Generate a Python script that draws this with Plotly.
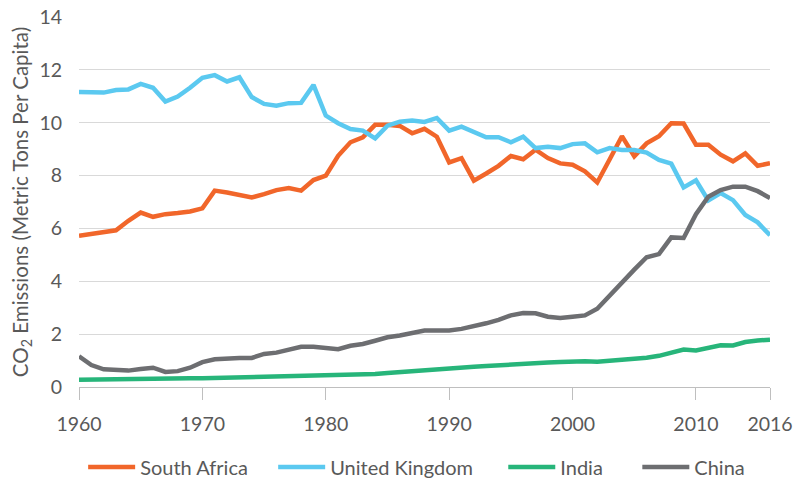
import plotly.graph_objects as go

years = list(range(1960, 2017))

south_africa = [5.72, 5.78, 5.86, 5.93, 6.29, 6.60, 6.44, 6.54, 6.58, 6.64,
                6.76, 7.43, 7.36, 7.26, 7.17, 7.30, 7.45, 7.53, 7.43, 7.83,
                8.00, 8.75, 9.26, 9.45, 9.92, 9.92, 9.88, 9.60, 9.77, 9.47,
                8.50, 8.66, 7.81, 8.08, 8.37, 8.74, 8.62, 8.98, 8.66, 8.46,
                8.41, 8.16, 7.74, 8.61, 9.49, 8.73, 9.22, 9.49, 9.98, 9.97,
                9.17, 9.17, 8.79, 8.54, 8.84, 8.37, 8.47]

united_kingdom = [11.16, 11.14, 11.14, 11.24, 11.26, 11.47, 11.32, 10.80, 10.99, 11.32,
                  11.70, 11.80, 11.56, 11.72, 10.97, 10.71, 10.64, 10.74, 10.75, 11.43,
                  10.27, 9.98, 9.76, 9.70, 9.41, 9.89, 10.04, 10.08, 10.03, 10.18,
                  9.70, 9.85, 9.64, 9.45, 9.45, 9.26, 9.47, 9.04, 9.09, 9.04,
                  9.19, 9.22, 8.88, 9.04, 8.97, 8.97, 8.87, 8.59, 8.45, 7.55,
                  7.82, 7.06, 7.34, 7.07, 6.51, 6.23, 5.74]

india = [0.27, 0.28, 0.30, 0.30, 0.29, 0.31, 0.31, 0.31, 0.33, 0.33,
         0.33, 0.34, 0.35, 0.35, 0.36, 0.38, 0.39, 0.39, 0.39, 0.41,
         0.43, 0.45, 0.46, 0.48, 0.49, 0.53, 0.57, 0.60, 0.64, 0.68,
         0.72, 0.75, 0.77, 0.79, 0.82, 0.85, 0.91, 0.92, 0.93, 0.95,
         0.97, 0.97, 0.96, 0.99, 1.03, 1.06, 1.11, 1.18, 1.30, 1.42,
         1.38, 1.46, 1.58, 1.57, 1.70, 1.76, 1.79]

china = [1.16, 0.83, 0.67, 0.64, 0.62, 0.68, 0.73, 0.57, 0.60, 0.73,
         0.94, 1.05, 1.09, 1.10, 1.10, 1.25, 1.30, 1.39, 1.52, 1.52,
         1.47, 1.43, 1.56, 1.63, 1.75, 1.88, 1.95, 2.05, 2.14, 2.14,
         2.14, 2.20, 2.29, 2.41, 2.54, 2.71, 2.80, 2.79, 2.66, 2.61,
         2.66, 2.71, 2.96, 3.47, 3.97, 4.44, 4.91, 5.03, 5.66, 5.64,
         6.54, 7.20, 7.45, 7.58, 7.58, 7.41, 7.15]

series_names = ["South Africa", "United Kingdom", "India", "China"]
series_values = [south_africa, united_kingdom, india, china]
series_colors = ["#F1662A", "#5BC9F0", "#27B57A", "#6D6E71"]

x_tickvals = [1960, 1970, 1980, 1990, 2000, 2010, 2016]
y_tickvals = [0, 2, 4, 6, 8, 10, 12, 14]

FONT = "Lato"
TEXT = "#595959"

legend_ids = ["legend", "legend2", "legend3", "legend4"]
legend_x = [0.006, 0.281, 0.614, 0.808]

fig = go.Figure()
for name, vals, col, lid in zip(series_names, series_values, series_colors, legend_ids):
    fig.add_trace(go.Scatter(x=years, y=vals, mode="lines", name=name, legend=lid,
                             line=dict(color=col, width=4.5)))

legend_common = dict(orientation="h", xanchor="left", y=-0.216, yanchor="middle",
                     font=dict(family=FONT, size=20, color=TEXT),
                     itemwidth=47, bgcolor="rgba(0,0,0,0)")

layout_legends = {lid: dict(x=lx, **legend_common) for lid, lx in zip(legend_ids, legend_x)}

fig.update_layout(
    width=803, height=478,
    margin=dict(l=79, r=33, t=17, b=91, autoexpand=False),
    paper_bgcolor="white", plot_bgcolor="white",
    font=dict(family=FONT, color=TEXT, size=19),
    showlegend=True,
    **layout_legends,
)
fig.update_xaxes(range=[1960, 2016], tickvals=x_tickvals, ticktext=[str(v) for v in x_tickvals],
                 showgrid=False, zeroline=False, showline=True, linecolor="#BFBFBF", linewidth=1,
                 ticks="outside", ticklen=12, tickcolor="#BFBFBF", automargin=False,
                 ticklabeloverflow="allow",
                 tickfont=dict(size=19.5, color=TEXT), ticklabelstandoff=8)
fig.update_yaxes(range=[0, 14], tickvals=y_tickvals, showgrid=True, gridcolor="#D9D9D9",
                 zeroline=False, showline=False, ticks="", automargin=False,
                 ticklabeloverflow="allow",
                 tickfont=dict(size=19.5, color=TEXT), ticklabelstandoff=16,
                 title=dict(text="CO<sub>2</sub> Emissions (Metric Tons Per Capita)",
                            font=dict(size=20.5, color=TEXT), standoff=5))

# remove the browser's default 8px page margin so the figure fills the window
fig.write_html("out.html",
               config={"displayModeBar": False, "staticPlot": True},
               post_script="document.body.style.margin='0';document.body.style.padding='0';"
                           "document.body.style.overflow='hidden';")
